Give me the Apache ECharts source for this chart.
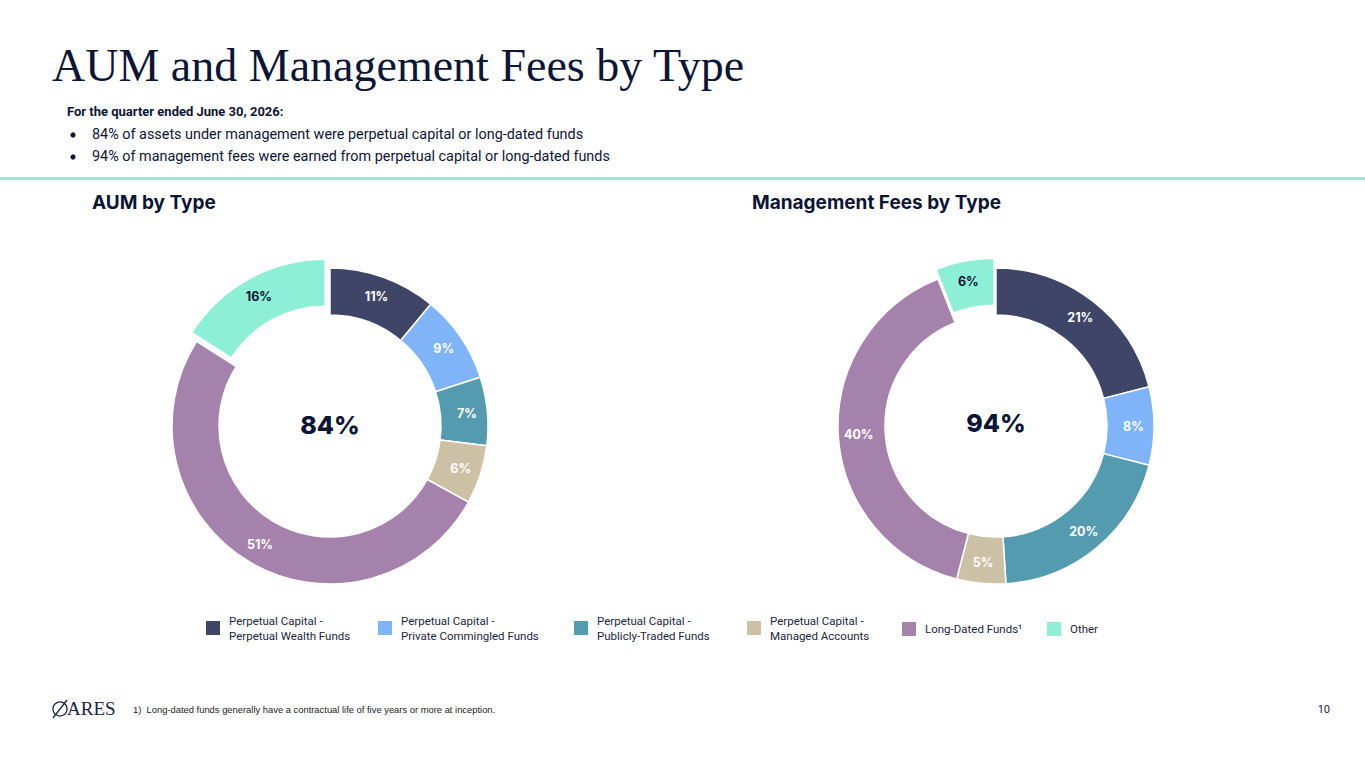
<!DOCTYPE html>
<html>
<head>
<meta charset="utf-8">
<title>AUM and Management Fees by Type</title>
<script src="https://cdn.jsdelivr.net/npm/echarts@6/dist/echarts.min.js"></script>
<style>
    html, body { margin: 0; padding: 0; background: #fff; }
    #chart { width: 1365px; height: 768px; }
</style>
</head>
<body>
<div id="chart"></div>
<script>
// categories and shares (percent)
var categories = [
    'Perpetual Capital -\nPerpetual Wealth Funds',
    'Perpetual Capital -\nPrivate Commingled Funds',
    'Perpetual Capital -\nPublicly-Traded Funds',
    'Perpetual Capital -\nManaged Accounts',
    'Long-Dated Funds\u00b9',
    'Other'
]
var aumValues = [11, 9, 7, 6, 51, 16]
var feeValues = [21, 8, 20, 5, 40, 6]
var colors = ['#3e4566', '#80b4f8', '#559bb0', '#cdc1a5', '#a582ab', '#8df0d6']
var aumTotal = '84%'
var feeTotal = '94%'

var navy = '#0d1536'
var sans = 'Inter, Roboto, sans-serif'

var myChart = echarts.init(document.getElementById('chart'), null, { renderer: 'svg' })

function pieData(values) {
    return values.map(function (v, i) {
        var last = i == values.length - 1
        return {
            name: categories[i],
            value: v,
            selected: last, // the "Other" slice is pulled out
            itemStyle: { color: colors[i] },
            label: { color: last ? navy : '#ffffff' }
        }
    })
}

function pieSeries(name, values, cx) {
    return {
        name: name,
        type: 'pie',
        center: [cx, 426],
        radius: [111, 158],
        startAngle: 90,
        clockwise: true,
        selectedMode: 'single',
        selectedOffset: 10,
        avoidLabelOverlap: false,
        itemStyle: { borderColor: '#ffffff', borderWidth: 1.5 },
        label: {
            show: true,
            position: 'inside',
            formatter: '{c}%',
            fontFamily: sans,
            fontWeight: 'bold',
            fontSize: 12.5
        },
        labelLine: { show: false },
        emphasis: { disabled: true },
        select: { itemStyle: { borderColor: '#ffffff', borderWidth: 1.5 } },
        data: pieData(values)
    }
}

// one legend per item so each can sit where the slide has it
var legendLeft = [204, 376, 572, 745, 900, 1045]
var legends = categories.map(function (c, i) {
    var twoLines = c.indexOf('\n') >= 0
    return {
        data: [c],
        left: legendLeft[i],
        top: twoLines ? 613 : 620,
        padding: 0,
        icon: 'rect',
        itemWidth: 16,
        itemHeight: 16,
        selectedMode: false,
        textStyle: {
            color: '#1b2540',
            fontFamily: 'Roboto, sans-serif',
            fontSize: 11.5,
            lineHeight: 15,
            padding: [0, 0, 0, 3]
        }
    }
})

var option = {
    animation: false,
    legend: legends,
    graphic: [
        { type: 'text', left: 52, top: 42, style: { text: 'AUM and Management Fees by Type', font: '46px "Liberation Serif", serif', fill: navy } },
        { type: 'text', left: 67, top: 105, style: { text: 'For the quarter ended June 30, 2026:', font: 'bold 13px Roboto, sans-serif', fill: navy } },
        { type: 'circle', shape: { cx: 73, cy: 135, r: 2.6 }, style: { fill: navy } },
        { type: 'circle', shape: { cx: 73, cy: 157, r: 2.6 }, style: { fill: navy } },
        { type: 'text', left: 92, top: 127, style: { text: '84% of assets under management were perpetual capital or long-dated funds', font: '14.4px Roboto, sans-serif', fill: navy } },
        { type: 'text', left: 92, top: 149, style: { text: '94% of management fees were earned from perpetual capital or long-dated funds', font: '14.4px Roboto, sans-serif', fill: navy } },
        { type: 'rect', shape: { x: 0, y: 177, width: 1365, height: 3 }, style: { fill: '#8eecd3' } },
        { type: 'text', left: 92, top: 193, style: { text: 'AUM by Type', font: 'bold 19px Inter, Roboto, sans-serif', fill: navy } },
        { type: 'text', left: 752, top: 193, style: { text: 'Management Fees by Type', font: 'bold 19px Inter, Roboto, sans-serif', fill: navy } },
        { type: 'text', x: 330, y: 425, style: { text: aumTotal, font: '800 25px ' + sans, fill: navy, align: 'center', verticalAlign: 'middle' } },
        { type: 'text', x: 996, y: 423, style: { text: feeTotal, font: '800 25px ' + sans, fill: navy, align: 'center', verticalAlign: 'middle' } },
        // ARES logo
        { type: 'circle', shape: { cx: 60, cy: 709, r: 7 }, style: { fill: 'none', stroke: '#1b2540', lineWidth: 1.3 } },
        { type: 'line', shape: { x1: 53, y1: 718, x2: 67, y2: 700 }, style: { stroke: '#1b2540', lineWidth: 1.3 } },
        { type: 'text', left: 67, top: 699, style: { text: 'ARES', font: '19px "Liberation Serif", serif', fill: '#1b2540' } },
        { type: 'text', left: 133, top: 705, style: { text: '1)  Long-dated funds generally have a contractual life of five years or more at inception.', font: '9.4px "Liberation Sans", Arial, sans-serif', fill: '#222' } },
        { type: 'text', right: 35, top: 704, style: { text: '10', font: '11px Roboto, sans-serif', fill: '#1b2540' } }
    ],
    series: [
        pieSeries('AUM by Type', aumValues, 330),
        pieSeries('Management Fees by Type', feeValues, 996)
    ]
}

myChart.setOption(option)
</script>
</body>
</html>
